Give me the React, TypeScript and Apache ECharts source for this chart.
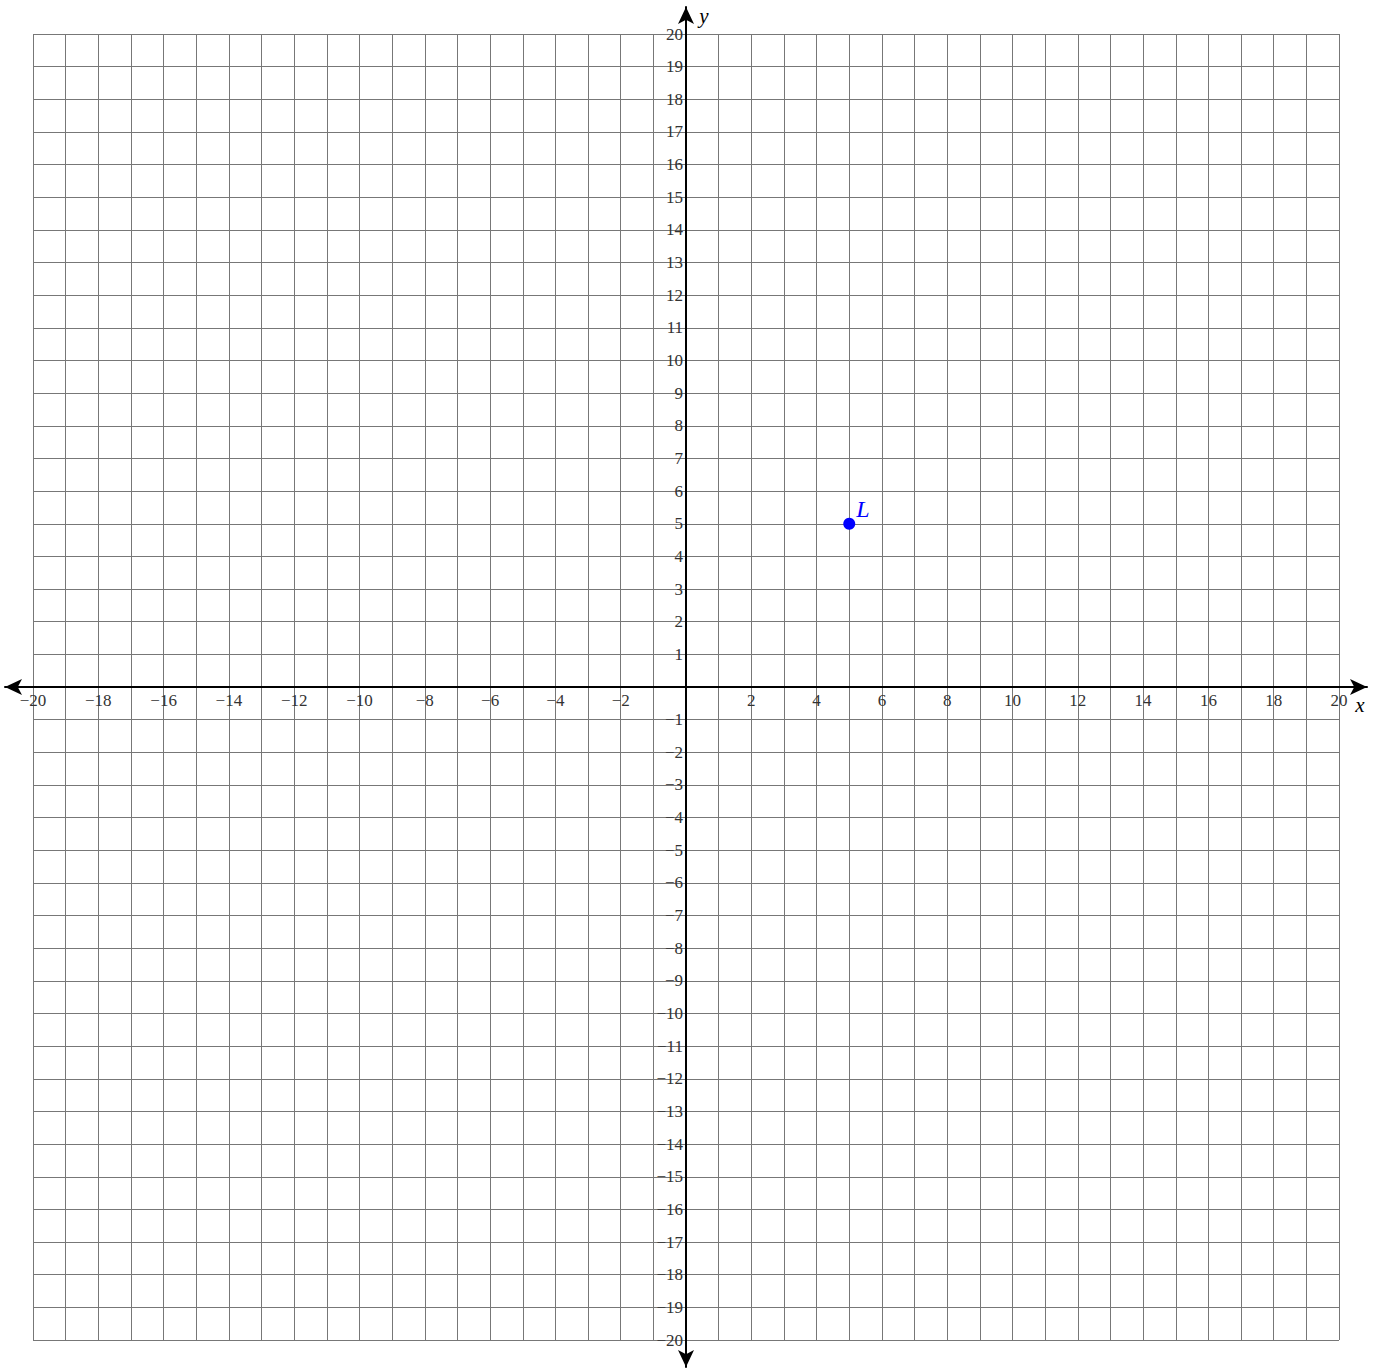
import React, { useEffect, useRef } from 'react';
import * as echarts from 'echarts';

const xTickLabels = [-20, -18, -16, -14, -12, -10, -8, -6, -4, -2, 2, 4, 6, 8, 10, 12, 14, 16, 18, 20];
const yTickLabels = [
  -20, -19, -18, -17, -16, -15, -14, -13, -12, -11, -10, -9, -8, -7, -6, -5, -4, -3, -2, -1,
  1, 2, 3, 4, 5, 6, 7, 8, 9, 10, 11, 12, 13, 14, 15, 16, 17, 18, 19, 20,
];
const pointNames = ['L'];
const pointX = [5];
const pointY = [5];

const SERIF = '"Liberation Serif", "Times New Roman", Times, serif';
const fmt = (v: number) => (v < 0 ? '\u2212' + Math.abs(v) : String(v));

const GRID_LEFT = 33;
const GRID_TOP = 34;
const GRID_SIZE = 1306;

export default function App() {
  const ref = useRef<HTMLDivElement>(null);
  useEffect(() => {
    if (!ref.current) return;
    const chart = echarts.init(ref.current, undefined, { renderer: 'svg' });
    const gridLine = { show: true, lineStyle: { color: '#777', width: 1 } };
    const half = GRID_SIZE / 2;
    chart.setOption({
      animation: false,
      backgroundColor: '#fff',
      grid: [
        { left: GRID_LEFT, top: GRID_TOP, width: GRID_SIZE, height: GRID_SIZE },
        { left: 5, top: 7, width: 1362, height: 1360 },
      ],
      xAxis: [
        {
          gridIndex: 0, type: 'value', min: -20, max: 20, interval: 1, position: 'bottom',
          offset: -half,
          axisLine: { show: false, onZero: false },
          axisTick: { show: false },
          splitLine: gridLine,
          axisLabel: {
            show: true, margin: 5, fontFamily: SERIF, fontSize: 17, color: '#333',
            showMinLabel: true, showMaxLabel: true,
            formatter: (v: number) => (xTickLabels.includes(Math.round(v)) ? fmt(Math.round(v)) : ''),
          },
        },
        {
          gridIndex: 1, type: 'value', min: -20.86, max: 20.86,
          axisLine: { show: true, onZero: true, symbol: ['arrow', 'arrow'], symbolSize: [12, 17], lineStyle: { color: '#000', width: 2 } },
          axisTick: { show: false }, axisLabel: { show: false }, splitLine: { show: false },
        },
      ],
      yAxis: [
        {
          gridIndex: 0, type: 'value', min: -20, max: 20, interval: 1, position: 'left',
          offset: -half,
          axisLine: { show: false, onZero: false },
          axisTick: { show: false },
          splitLine: gridLine,
          axisLabel: {
            show: true, margin: 3, fontFamily: SERIF, fontSize: 17, color: '#333',
            showMinLabel: true, showMaxLabel: true,
            formatter: (v: number) => (yTickLabels.includes(Math.round(v)) ? fmt(Math.round(v)) : ''),
          },
        },
        {
          gridIndex: 1, type: 'value', min: -20.83, max: 20.83,
          axisLine: { show: true, onZero: true, symbol: ['arrow', 'arrow'], symbolSize: [12, 17], lineStyle: { color: '#000', width: 2 } },
          axisTick: { show: false }, axisLabel: { show: false }, splitLine: { show: false },
        },
      ],
      series: [
        {
          type: 'scatter', xAxisIndex: 0, yAxisIndex: 0,
          data: pointX.map((x, i) => ({ value: [x, pointY[i]], name: pointNames[i] })),
          symbol: 'circle', symbolSize: 12,
          itemStyle: { color: '#0000ff', opacity: 1 },
          label: {
            show: true, formatter: '{b}', position: [13, -21], align: 'left', verticalAlign: 'top',
            fontFamily: SERIF, fontStyle: 'italic', fontSize: 24, color: '#0000ff',
          },
          z: 10,
        },
      ],
    });
    const o = chart.convertToPixel({ xAxisIndex: 0, yAxisIndex: 0 }, [0, 0]) as number[];
    chart.setOption({
      graphic: [
        { type: 'text', x: o[0] + 674, y: o[1] + 18, style: { text: 'x', fontFamily: SERIF, fontStyle: 'italic', fontSize: 21, fill: '#000', align: 'center', verticalAlign: 'middle' } },
        { type: 'text', x: o[0] + 18, y: o[1] - 671, style: { text: 'y', fontFamily: SERIF, fontStyle: 'italic', fontSize: 21, fill: '#000', align: 'center', verticalAlign: 'middle' } },
      ],
    });
    return () => chart.dispose();
  }, []);
  return <div ref={ref} style={{ position: 'fixed', left: 0, top: 0, width: 1381, height: 1368 }} />;
}
